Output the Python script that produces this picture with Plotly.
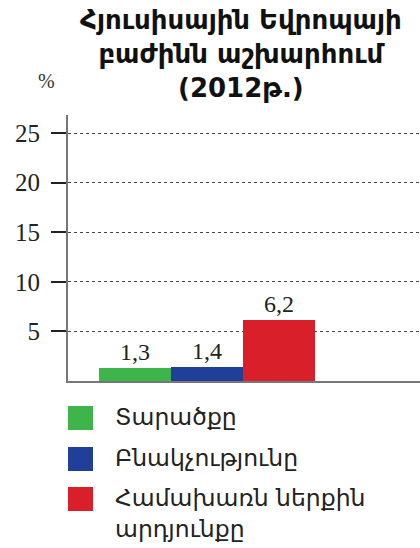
import plotly.graph_objects as go

# ---- data ----
categories = ["Տարածքը", "Բնակչությունը", "Համախառն ներքին<br>արդյունքը"]
values = [1.3, 1.4, 6.2]
colors = ["#3db54a", "#1f3f98", "#d81f2a"]
y_ticks = [5, 10, 15, 20, 25]
title_text = "Հյուսիսային Եվրոպայի<br>բաժինն աշխարհում<br>(2012թ.)"
unit_label = "%"

W, H = 420, 548
L, R, T, B = 68, 0, 115, 167
plot_h = H - T - B
plot_w = W - L - R

def px_x(x):
    return (x - L) / plot_w

def px_y(y):
    return (H - B - y) / plot_h

xs = list(range(len(values)))
fig = go.Figure()
fig.add_trace(go.Bar(
    x=xs, y=values, width=1,
    marker=dict(color=colors, line=dict(width=0)),
    text=values, texttemplate="%{y:.1f}", textposition="outside",
    textfont=dict(family="Liberation Serif", size=24, color="#222"),
    cliponaxis=False, showlegend=False, hoverinfo="skip",
))

unit = 72.0
left = -0.5 - (99 - L) / unit
right = left + plot_w / unit

shapes = []
annotations = []
# legend (built from the category / colour lists)
legend_rows = [418, 459, 499]
for i, (cat, col) in enumerate(zip(categories, colors)):
    yc = legend_rows[i]
    shapes.append(dict(type="rect", xref="paper", yref="paper",
                       x0=px_x(68), x1=px_x(93), y0=px_y(yc + 12), y1=px_y(yc - 12),
                       fillcolor=col, line=dict(width=0)))
    annotations.append(dict(text=cat, xref="paper", yref="paper",
                            x=px_x(114), y=px_y(yc - 16), xanchor="left", yanchor="top",
                            align="left", showarrow=False, borderpad=0,
                            font=dict(family="DejaVu Sans", size=23.5, color="#222")))

annotations.append(dict(text=unit_label, xref="paper", yref="paper",
                        x=px_x(46), y=px_y(81), xanchor="center", yanchor="middle",
                        showarrow=False,
                        font=dict(family="Liberation Serif", size=20, color="#333")))

annotations.append(dict(text="<b>" + title_text + "</b>", xref="paper", yref="paper",
                        x=px_x(241), y=px_y(4), xanchor="center", yanchor="top",
                        showarrow=False, borderpad=0, align="center",
                        font=dict(family="DejaVu Sans", size=26, color="#111")))

fig.update_layout(
    width=W, height=H,
    margin=dict(l=L, r=R, t=T, b=B, pad=0),
    paper_bgcolor="white", plot_bgcolor="white",
    separators=", ",
    bargap=0,
    xaxis=dict(range=[left, right], showticklabels=False, showgrid=False, zeroline=False,
               showline=True, linecolor="#777", linewidth=2, ticks=""),
    yaxis=dict(range=[0, (H - B - T) / ((H - B - 133) / 25)], tickvals=y_ticks,
               showgrid=True, gridcolor="#444", griddash="3px,3px", gridwidth=1,
               zeroline=False, showline=True, linecolor="#777", linewidth=2,
               ticks="outside", ticklen=15, tickwidth=2, tickcolor="#222",
               ticklabelstandoff=6,
               tickfont=dict(family="Liberation Serif", size=25, color="#222")),
    shapes=shapes, annotations=annotations,
)

fig.write_html("out.html", config={"displayModeBar": False, "staticPlot": True},
               post_script="document.body.style.margin='0';document.body.style.overflow='hidden';")
